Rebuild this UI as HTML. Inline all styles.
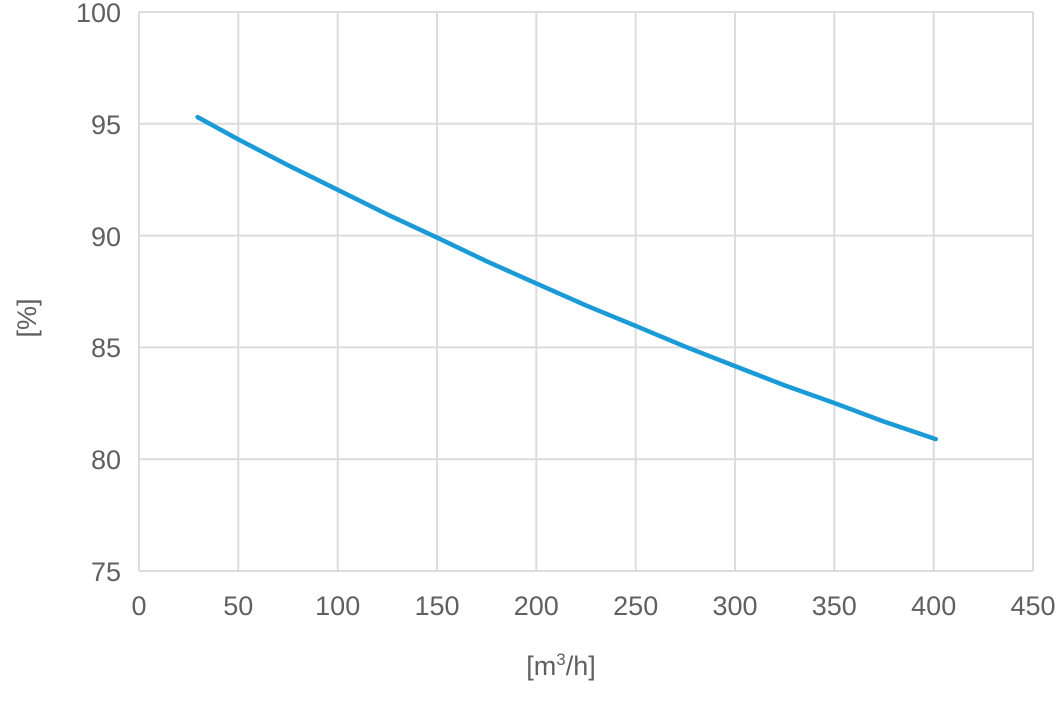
<!DOCTYPE html>
<html><head><style>html,body{margin:0;padding:0;background:#fff}</style></head>
<body>
<svg width="1062" height="709" xmlns="http://www.w3.org/2000/svg" font-family="Liberation Sans, sans-serif" fill="#606060">
<rect width="1062" height="709" fill="#fff"/>
<g stroke="#dcdcdc" stroke-width="2">
<line x1="139" y1="12" x2="1033" y2="12"/>
<line x1="139" y1="123.8" x2="1033" y2="123.8"/>
<line x1="139" y1="235.6" x2="1033" y2="235.6"/>
<line x1="139" y1="347.4" x2="1033" y2="347.4"/>
<line x1="139" y1="459.2" x2="1033" y2="459.2"/>
<line x1="139" y1="571" x2="1033" y2="571"/>
<line x1="139" y1="12" x2="139" y2="571"/>
<line x1="238.3" y1="12" x2="238.3" y2="571"/>
<line x1="337.7" y1="12" x2="337.7" y2="571"/>
<line x1="437" y1="12" x2="437" y2="571"/>
<line x1="536.3" y1="12" x2="536.3" y2="571"/>
<line x1="635.7" y1="12" x2="635.7" y2="571"/>
<line x1="735" y1="12" x2="735" y2="571"/>
<line x1="834.3" y1="12" x2="834.3" y2="571"/>
<line x1="933.7" y1="12" x2="933.7" y2="571"/>
<line x1="1033" y1="12" x2="1033" y2="571"/>
</g>
<g font-size="27" text-anchor="end">
<text x="121" y="22">100</text>
<text x="121" y="134">95</text>
<text x="121" y="246">90</text>
<text x="121" y="357">85</text>
<text x="121" y="469">80</text>
<text x="121" y="581">75</text>
</g>
<g font-size="27" text-anchor="middle">
<text x="139" y="615">0</text>
<text x="238.3" y="615">50</text>
<text x="337.7" y="615">100</text>
<text x="437" y="615">150</text>
<text x="536.3" y="615">200</text>
<text x="635.7" y="615">250</text>
<text x="735" y="615">300</text>
<text x="834.3" y="615">350</text>
<text x="933.7" y="615">400</text>
<text x="1033" y="615">450</text>
<text x="561" y="675">[m<tspan font-size="17" dy="-10">3</tspan><tspan dy="10">/h]</tspan></text>
</g>
<text font-size="27" text-anchor="middle" transform="translate(36,318) rotate(-90)">[%]</text>
<polyline points="197.6,117.1 238.3,139.4 288,165.2 337.7,189.8 387.3,214.4 437,237.6 486.7,261.3 536.3,283.4 586,305.4 635.7,325.9 685.3,346.7 735,366.1 784.7,385.4 834.3,403 884,421.6 935.7,439.1" fill="none" stroke="#1a9ad6" stroke-width="4.5" stroke-linecap="round" stroke-linejoin="round"/>
</svg>
</body></html>
